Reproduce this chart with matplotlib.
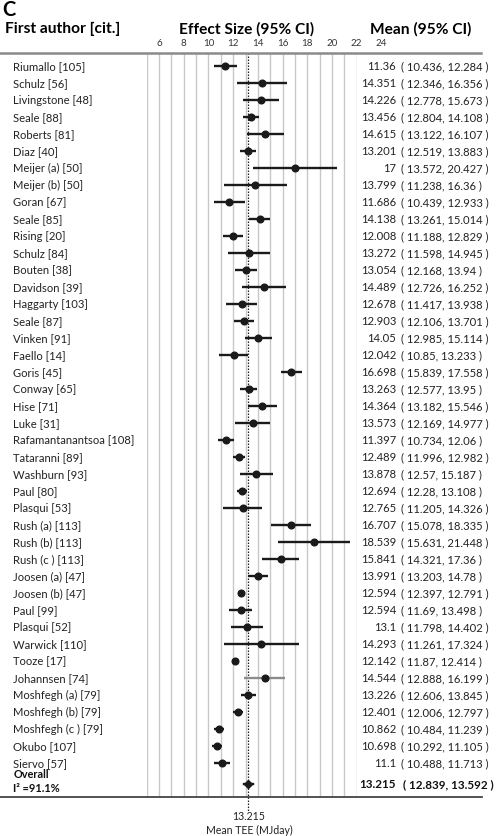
import matplotlib
matplotlib.use("Agg")
import matplotlib.pyplot as plt
from matplotlib.transforms import blended_transform_factory

plt.rcParams['font.family'] = ['Lato', 'DejaVu Sans']

authors = ["Riumallo [105]", "Schulz [56]", "Livingstone [48]", "Seale [88]", "Roberts [81]",
           "Diaz [40]", "Meijer (a) [50]", "Meijer (b) [50]", "Goran [67]", "Seale [85]",
           "Rising [20]", "Schulz [84]", "Bouten [38]", "Davidson [39]", "Haggarty [103]",
           "Seale [87]", "Vinken [91]", "Faello [14]", "Goris [45]", "Conway [65]",
           "Hise [71]", "Luke [31]", "Rafamantanantsoa [108]", "Tataranni [89]", "Washburn [93]",
           "Paul [80]", "Plasqui [53]", "Rush (a) [113]", "Rush (b) [113]", "Rush (c ) [113]",
           "Joosen (a) [47]", "Joosen (b) [47]", "Paul [99]", "Plasqui [52]", "Warwick [110]",
           "Tooze [17]", "Johannsen [74]", "Moshfegh (a) [79]", "Moshfegh (b) [79]",
           "Moshfegh (c ) [79]", "Okubo [107]", "Siervo [57]"]
means = ["11.36", "14.351", "14.226", "13.456", "14.615", "13.201", "17", "13.799", "11.686",
         "14.138", "12.008", "13.272", "13.054", "14.489", "12.678", "12.903", "14.05", "12.042",
         "16.698", "13.263", "14.364", "13.573", "11.397", "12.489", "13.878", "12.694", "12.765",
         "16.707", "18.539", "15.841", "13.991", "12.594", "12.594", "13.1", "14.293", "12.142",
         "14.544", "13.226", "12.401", "10.862", "10.698", "11.1"]
lows = ["10.436", "12.346", "12.778", "12.804", "13.122", "12.519", "13.572", "11.238", "10.439",
        "13.261", "11.188", "11.598", "12.168", "12.726", "11.417", "12.106", "12.985", "10.85",
        "15.839", "12.577", "13.182", "12.169", "10.734", "11.996", "12.57", "12.28", "11.205",
        "15.078", "15.631", "14.321", "13.203", "12.397", "11.69", "11.798", "11.261", "11.87",
        "12.888", "12.606", "12.006", "10.484", "10.292", "10.488"]
highs = ["12.284", "16.356", "15.673", "14.108", "16.107", "13.883", "20.427", "16.36", "12.933",
         "15.014", "12.829", "14.945", "13.94", "16.252", "13.938", "13.701", "15.114", "13.233",
         "17.558", "13.95", "15.546", "14.977", "12.06", "12.982", "15.187", "13.108", "14.326",
         "18.335", "21.448", "17.36", "14.78", "12.791", "13.498", "14.402", "17.324", "12.414",
         "16.199", "13.845", "12.797", "11.239", "11.105", "11.713"]
overall = ["13.215", "12.839", "13.592"]
i2_text = "I\u00b2 =91.1%"
tick_vals = [6, 8, 10, 12, 14, 16, 18, 20, 22, 24]
grid_vals = list(range(5, 23))
gray_rows = ["Johannsen [74]"]

W, H = 496, 837
fig = plt.figure(figsize=(W / 100, H / 100), dpi=100)
top_px, bot_px = 54, 797.7
ax = fig.add_axes([146.7 / W, 1 - bot_px / H, 210 / W, (bot_px - top_px) / H])
ax.set_xlim(5, 22)
ax.set_ylim(43.0, -0.75)
ax.axis('off')

bt = blended_transform_factory(fig.transFigure, ax.transData)
xt = ax.get_xaxis_transform()

for g in grid_vals:
    ax.axvline(g, color='#c8c8c8', lw=1.0, zorder=0)

ax.plot([float(overall[0])] * 2, [-0.75, 43.9], ls=(0, (1.2, 1.2)), color='#222222', lw=0.9,
        clip_on=False, zorder=1)

fs = 8.1
for i, name in enumerate(authors):
    m, lo, hi = float(means[i]), float(lows[i]), float(highs[i])
    lc = '#8c8c8c' if name in gray_rows else '#1a1a1a'
    ax.plot([lo, hi], [i, i], color=lc, lw=1.7, solid_capstyle='butt', zorder=2)
    ax.plot(m, i, 'o', color='#1a1a1a', ms=4.8, zorder=3)
    ax.text(13.3 / W, i, name, transform=bt, ha='left', va='center', fontsize=fs, color='#222222')
    ax.text(396 / W, i, means[i], transform=bt, ha='right', va='center', fontsize=fs, color='#222222')
    ax.text(401 / W, i, "( %s, %s )" % (lows[i], highs[i]), transform=bt, ha='left', va='center',
            fontsize=fs, color='#222222')

oy = 42.25
om, olo, ohi = [float(v) for v in overall]
ax.plot([olo, ohi], [oy, oy], color='#1a1a1a', lw=1.7, zorder=2)
ax.plot(om, oy, 'D', color='#1a1a1a', ms=3.8, zorder=3)
ax.text(13.3 / W, 41.66, "Overall", transform=bt, ha='left', va='center', fontsize=7.9,
        fontweight='bold', color='#111111')
ax.text(13.3 / W, 42.48, i2_text, transform=bt, ha='left', va='center', fontsize=7.9,
        fontweight='bold', color='#111111')
ax.text(396 / W, oy, overall[0], transform=bt, ha='right', va='center', fontsize=fs + 0.3,
        fontweight='bold', color='#111111')
ax.text(403 / W, oy, "( %s, %s )" % (overall[1], overall[2]), transform=bt, ha='left',
        va='center', fontsize=fs + 0.3, fontweight='bold', color='#111111')

# top and bottom rules
ax.plot([0, 481 / W], [-0.75, -0.75], transform=bt, color='#8a8a8a', lw=1.8, clip_on=False)
ax.plot([0, 482 / W], [43.0, 43.0], transform=bt, color='#444444', lw=1.3, clip_on=False)

# tick labels along the top
for t in tick_vals:
    ax.text(t, 1 + 10.5 / (bot_px - top_px), str(t), transform=xt, ha='center', va='center',
            fontsize=7, color='#333333', clip_on=False)

# headers
fig.text(2 / W, 1 - 9.5 / H, "C", ha='left', va='center', fontsize=14.5, fontweight='bold')
fig.text(5 / W, 1 - 29 / H, "First author [cit.]", ha='left', va='center', fontsize=11.2,
         fontweight='bold')
fig.text(247 / W, 1 - 29 / H, "Effect Size (95% CI)", ha='center', va='center', fontsize=11.2,
         fontweight='bold')
fig.text(421 / W, 1 - 29 / H, "Mean (95% CI)", ha='center', va='center', fontsize=11.2,
         fontweight='bold')

fig.text(249 / W, 1 - 817 / H, overall[0], ha='center', va='center', fontsize=7.6, color='#222222')
fig.text(249 / W, 1 - 830 / H, "Mean TEE (MJday)", ha='center', va='center', fontsize=7.6,
         color='#222222')

fig.savefig("out.png", dpi=100)
